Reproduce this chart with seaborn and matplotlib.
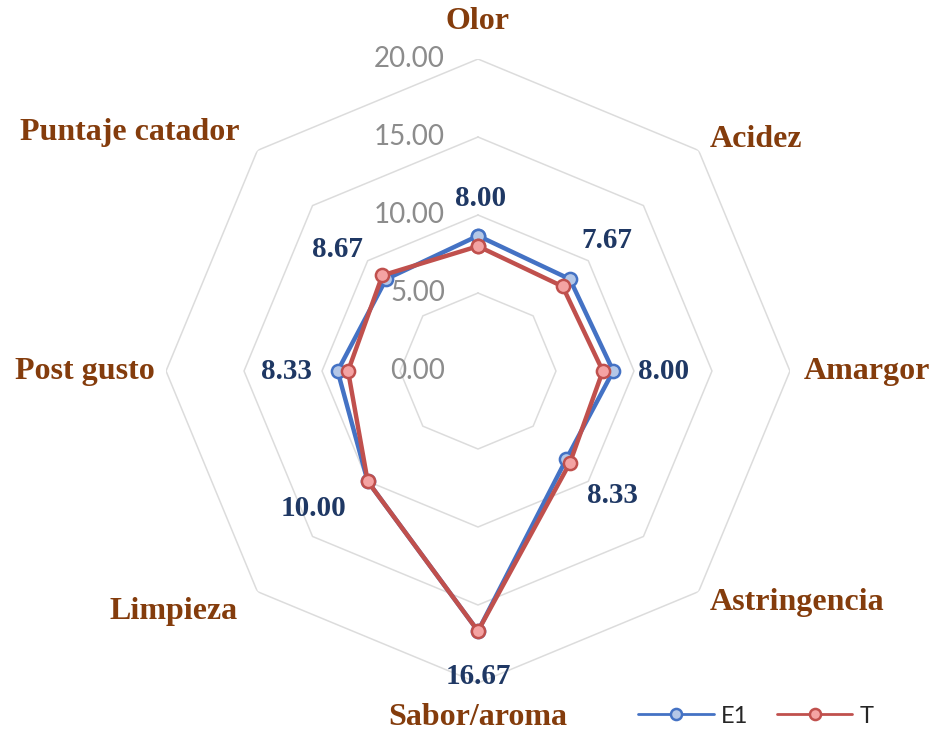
import numpy as np
import pandas as pd
import matplotlib
matplotlib.use("Agg")
import matplotlib.pyplot as plt
import seaborn as sns

# Sensory attributes, clockwise from the top
categories = ["Olor", "Acidez", "Amargor", "Astringencia",
              "Sabor/aroma", "Limpieza", "Post gusto", "Puntaje catador"]
e1_values = [8.67, 8.33, 8.67, 8.00, 16.67, 10.00, 9.00, 8.33]
t_values = [8.00, 7.67, 8.00, 8.33, 16.67, 10.00, 8.33, 8.67]
ring_levels = [0, 5, 10, 15, 20]
ring_labels = ["0.00", "5.00", "10.00", "15.00", "20.00"]

sns.set_theme(style="white")
plt.rcParams["font.family"] = ["Lato", "DejaVu Sans"]

n = len(categories)
theta = np.linspace(0, 2 * np.pi, n, endpoint=False)
theta_closed = np.append(theta, 2 * np.pi)

fig = plt.figure(figsize=(9.39, 7.36), dpi=100)
fig.patch.set_facecolor("white")
ax = fig.add_axes([0.1768, 0.072, 0.6645, 0.8478], projection="polar")
ax.set_theta_zero_location("N")
ax.set_theta_direction(-1)
ax.set_ylim(0, 20)
ax.grid(False)
ax.spines["polar"].set_visible(False)
ax.set_xticks([])
ax.set_yticks([])
ax.set_facecolor("white")

# Octagonal grid rings
for lvl in ring_levels[1:]:
    ax.plot(theta_closed, [lvl] * (n + 1), color="#DCDCDC", lw=1.1, zorder=1)

def closed_frame(values, name):
    vals = list(values) + [values[0]]
    return pd.DataFrame({"theta": theta_closed, "value": vals, "serie": name})

series = [
    ("E1", e1_values, "#4472C4", "#B4C7E7"),
    ("T", t_values, "#C0504D", "#F4A3A3"),
]
for name, vals, col, face in series:
    sns.lineplot(data=closed_frame(vals, name), x="theta", y="value",
                 sort=False, estimator=None, color=col, lw=3.2,
                 marker="o", markersize=9.5, markerfacecolor=face,
                 markeredgecolor=col, markeredgewidth=1.8,
                 label=name, legend=False, ax=ax, zorder=3, clip_on=False)
ax.set_xlabel("")
ax.set_ylabel("")
ax.set_ylim(0, 20)

# Radial scale labels, left of the top spoke
for lvl, txt in zip(ring_levels, ring_labels):
    ax.annotate(txt, xy=(0, lvl), xytext=(-33, 0), textcoords="offset pixels",
                ha="right", va="center", fontsize=20, fontweight="normal",
                color="#8C8C8C", family=["Lato", "DejaVu Sans"], zorder=5)

# Category labels
cat_pos = [
    (22.4, "center", "center"),
    (21.0, "left", "center"),
    (20.9, "left", "center"),
    (21.0, "left", "center"),
    (22.2, "center", "center"),
    (21.8, "right", "center"),
    (20.7, "right", "center"),
    (21.6, "right", "center"),
]
for ang, cat, (r, ha, va) in zip(theta, categories, cat_pos):
    ax.text(ang, r, cat, ha=ha, va=va, fontsize=23, fontweight="bold",
            color="#843C0C", family=["Liberation Serif", "DejaVu Serif"])

# Value labels next to the T series points
label_offsets = [
    ((3, 34), "center", "bottom"),
    ((19, 32), "left", "bottom"),
    ((35, 0), "left", "center"),
    ((17, -19), "left", "top"),
    ((0, -32), "center", "top"),
    ((-21, -14), "right", "top"),
    ((-36, 0), "right", "center"),
    ((-19, 12), "right", "bottom"),
]
for ang, val, (off, ha, va) in zip(theta, t_values, label_offsets):
    ax.annotate(f"{val:.2f}", xy=(ang, val), xytext=off,
                textcoords="offset pixels", ha=ha, va=va, fontsize=21,
                fontweight="bold", color="#1F3864",
                family=["Liberation Serif", "DejaVu Serif"], zorder=6)

handles, labels = ax.get_legend_handles_labels()
leg = fig.legend(handles, labels, loc="center", bbox_to_anchor=(0.805, 0.027),
                 ncol=2, frameon=False, fontsize=17, handlelength=3.2,
                 columnspacing=1.2, handletextpad=0.3)
for h in leg.get_lines():
    h.set_linewidth(2)
    h.set_markersize(8)

fig.savefig("out.png", dpi=100, facecolor="white")
